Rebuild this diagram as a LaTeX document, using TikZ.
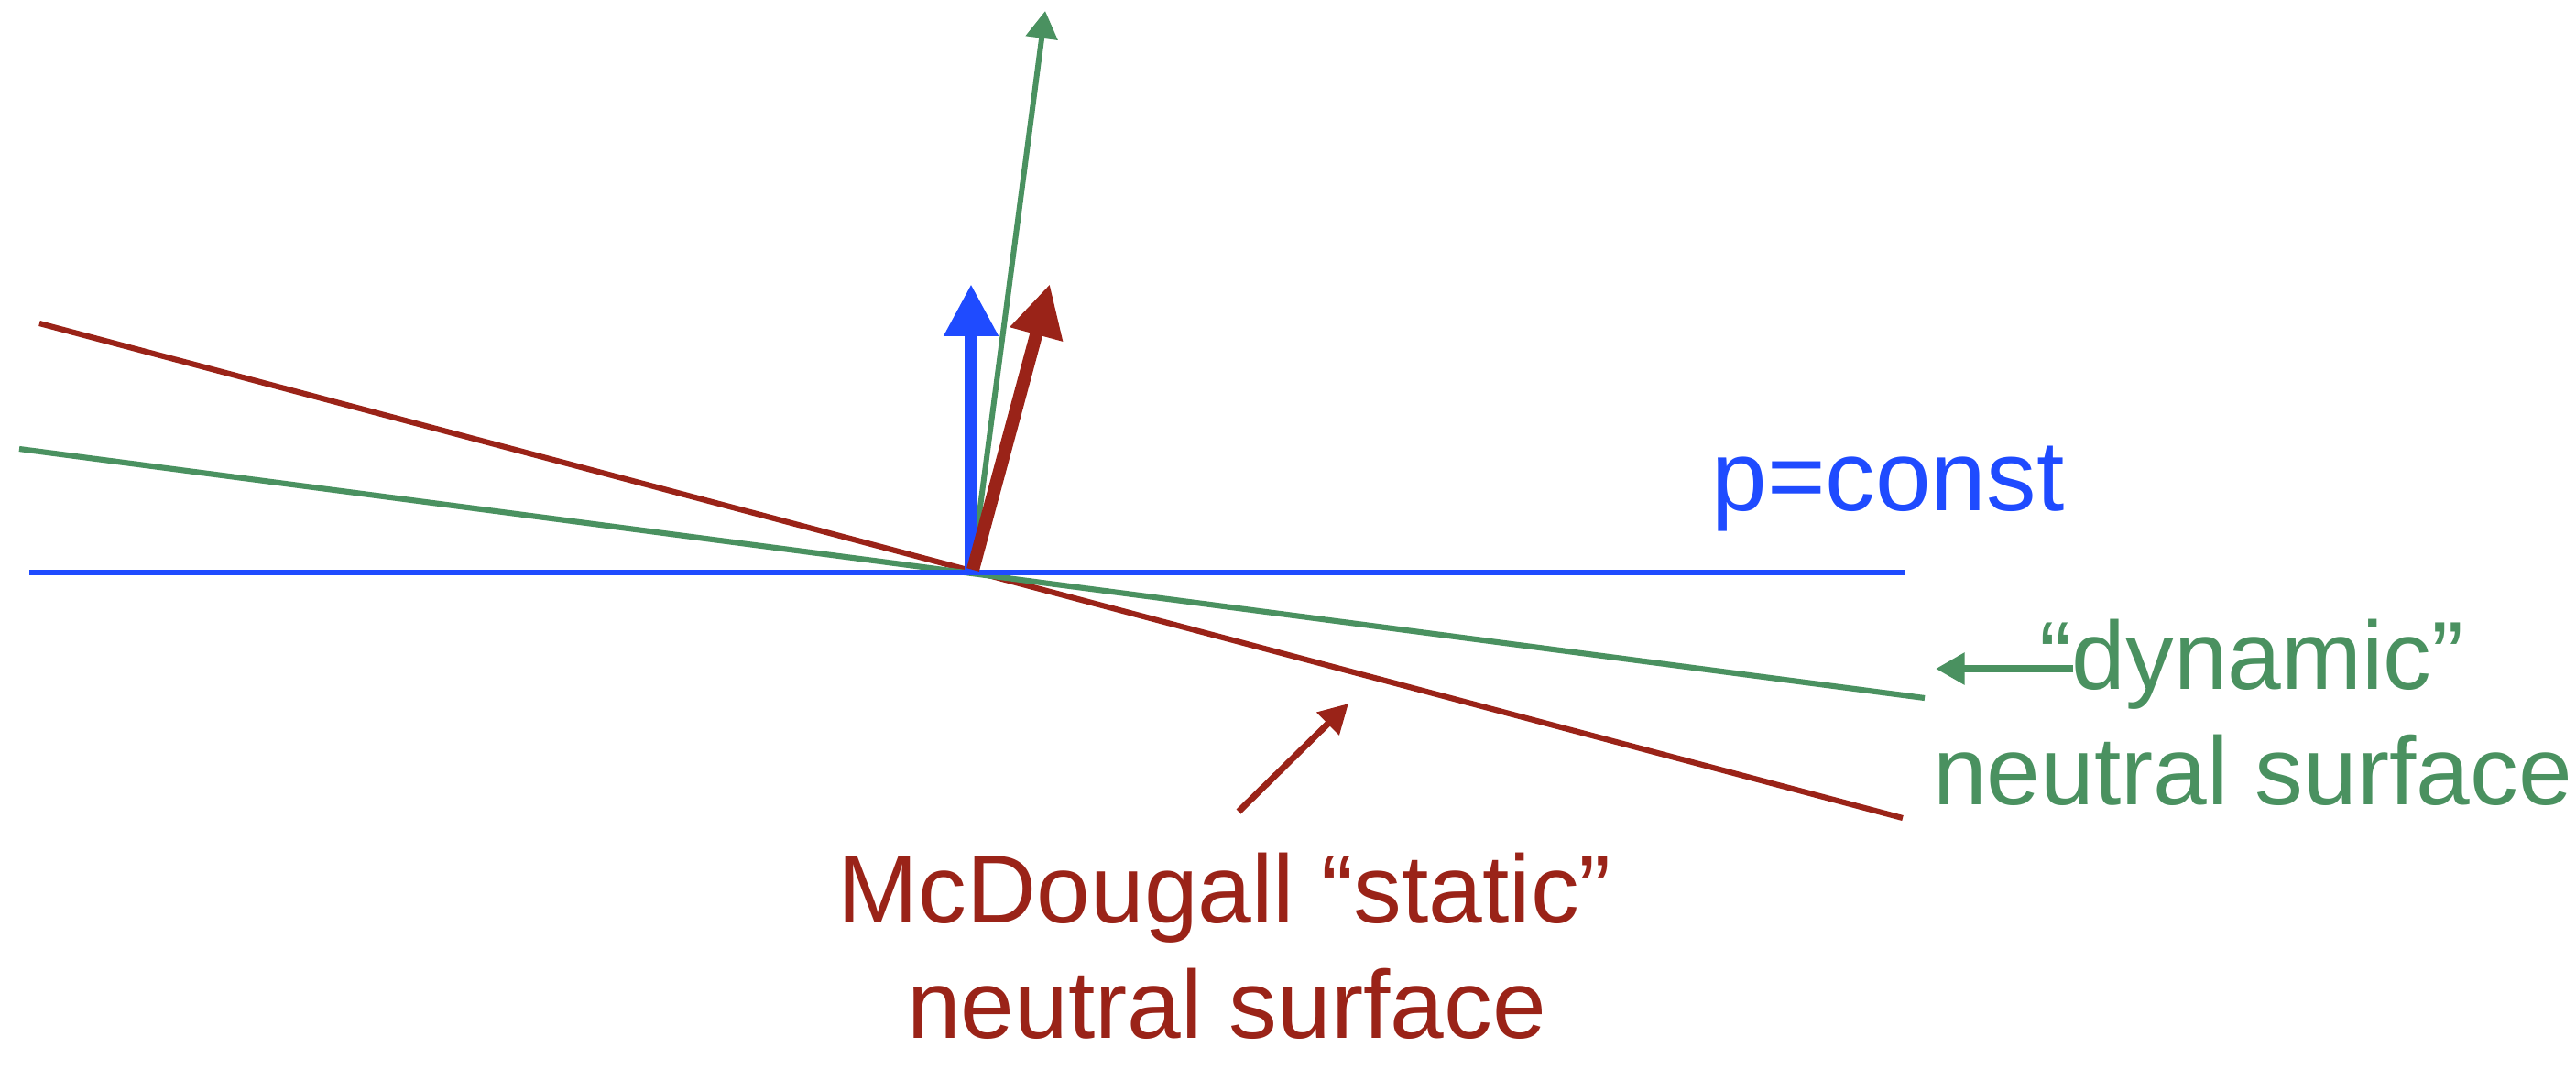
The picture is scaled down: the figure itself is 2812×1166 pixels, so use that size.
\documentclass[tikz,border=0pt]{standalone}
\usepackage{fontspec}
\setmainfont{Liberation Sans}
\usetikzlibrary{arrows.meta}
\definecolor{cblue}{HTML}{1F4BFF}
\definecolor{cred}{HTML}{9A2318}
\definecolor{cgreen}{HTML}{4A9160}
\tikzset{
  surf/.style={line width=1.75pt},
  bigarrow/.style={line width=4pt,-{Triangle[length=16.2pt,width=15.9pt]}},
  normarrow/.style={line width=1.7pt,-{Triangle[length=8.5pt,width=9.7pt]}},
  pointer/.style={line width=2.2pt,-{Triangle[length=9pt,width=9.5pt]}},
  lbl/.style={inner sep=0pt,anchor=base,font=\fontsize{30}{36}\selectfont}
}
\begin{document}
\begin{tikzpicture}[x=0.01cm,y=-0.01cm]
\useasboundingbox (0,0) rectangle (2812,1166);
% points
\coordinate (O) at (1060,625);
\coordinate (bL) at (32,625);
\coordinate (bR) at (2080,625);
\coordinate (rL) at (43,353);
\coordinate (rR) at (2077,893);
\coordinate (gL) at (21,490);
\coordinate (gR) at (2101,762);
\coordinate (bTip) at (1060,310);
\coordinate (rTip) at (1146,310);
\coordinate (gTip) at (1141,12);
\coordinate (rO) at (1062,622);
\coordinate (gO) at (1061,622);
% surfaces
\draw[surf,cred] (rL) -- (rR);
\draw[surf,cgreen] (gL) -- (gR);
\draw[surf,cblue] (bL) -- (bR);
% normals
\draw[normarrow,cgreen] (gO) -- (gTip);
\draw[bigarrow,cblue] (O) -- (bTip);
\draw[bigarrow,cred] (rO) -- (rTip);
% labels
\node[lbl,cblue,font=\fontsize{31}{36}\selectfont] (pc) at (2061,557) {p=const};
\node[lbl,cgreen] (dyn1) at (2458,752) {“dynamic”};
\node[lbl,cgreen] (dyn2) at (2459,878) {neutral surface};
\node[lbl,cred] (st1) at (1337,1007) {McDougall “static”};
\node[lbl,cred] (st2) at (1339,1133) {neutral surface};
% pointers
\coordinate (gPtail) at (2263,730);
\coordinate (gPtip) at (2113,730);
\coordinate (rPtail) at (1352,886);
\coordinate (rPtip) at (1472,768);
\draw[pointer,cgreen] (gPtail) -- (gPtip);
\draw[pointer,cred,line width=2pt] (rPtail) -- (rPtip);
\end{tikzpicture}
\end{document}
